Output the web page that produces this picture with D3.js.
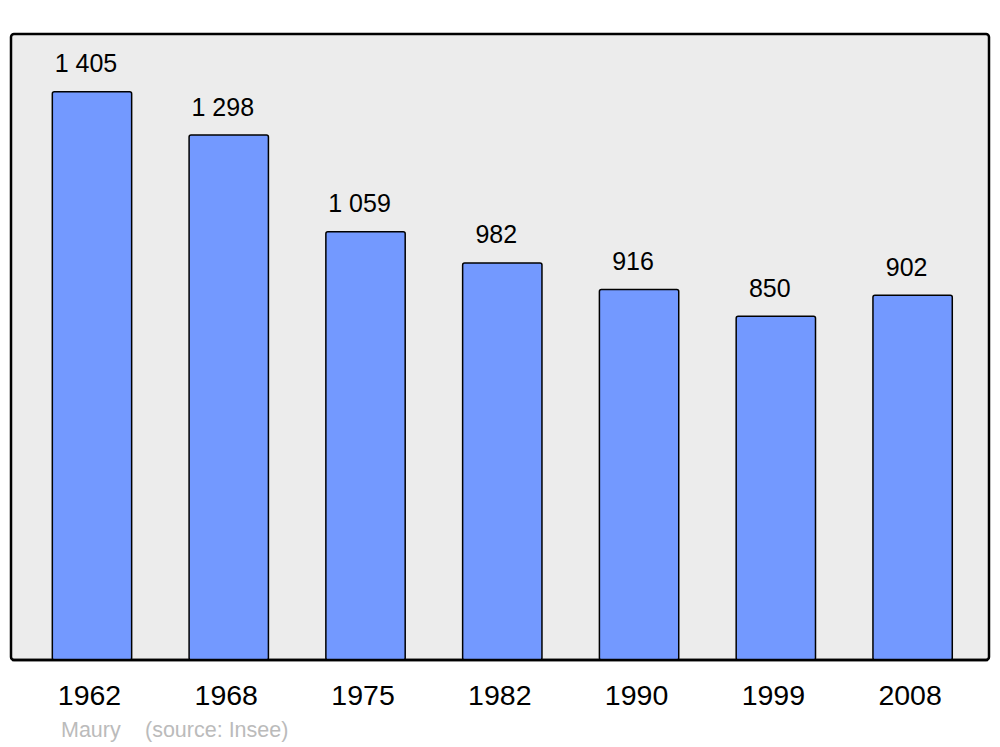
<!DOCTYPE html>
<html><head><meta charset="utf-8">
<script src="https://cdn.jsdelivr.net/npm/d3@7/dist/d3.min.js"></script>
<style>body{margin:0;background:#fff}svg{display:block}text{font-family:"Liberation Sans",Arial,sans-serif}</style>
</head><body>
<script>
const years = ["1962","1968","1975","1982","1990","1999","2008"];
const population = [1405,1298,1059,982,916,850,902];
const valueLabels = ["1 405","1 298","1 059","982","916","850","902"];
const sourceAuthor = "Maury";
const sourceText = "(source: Insee)";

const W=1000,H=747;
const svg=d3.select("body").append("svg").attr("width",W).attr("height",H);
const panel={x:11,y:34,w:978,h:626};
svg.append("rect").attr("x",panel.x).attr("y",panel.y).attr("width",panel.w).attr("height",panel.h)
  .attr("rx",3).attr("fill","#ececec").attr("stroke","#000").attr("stroke-width",2.5);

const x=d3.scaleBand().domain(years).range([23.6,981]).paddingInner(0.42).paddingOuter(0.21);
const y=d3.scaleLinear().domain([0,626/0.4044]).range([660,34]);

const g=svg.append("g");
g.selectAll("rect.bar").data(years).join("rect").attr("class","bar")
  .attr("x",d=>x(d)).attr("width",x.bandwidth())
  .attr("y",(d,i)=>y(population[i])).attr("height",(d,i)=>y(0)-y(population[i]))
  .attr("rx",2).attr("fill","#7399ff").attr("stroke","#000").attr("stroke-width",1.5);

svg.append("line").attr("x1",panel.x+1).attr("x2",panel.x+panel.w-1).attr("y1",660).attr("y2",660)
  .attr("stroke","#000").attr("stroke-width",2.5);

g.selectAll("text.val").data(years).join("text").attr("class","val")
  .attr("x",d=>x(d)+x.bandwidth()/2-6).attr("y",(d,i)=>y(population[i])-19.5)
  .attr("text-anchor","middle").attr("font-size",25).attr("fill","#000")
  .text((d,i)=>valueLabels[i]);

const xAxis=d3.axisBottom(x).tickSize(0).tickPadding(0);
const ax=svg.append("g").attr("transform","translate(-2.5,660)").call(xAxis);
ax.select(".domain").remove();
ax.selectAll("text").attr("font-size",28.5).attr("fill","#000").attr("dy",null).attr("y",45)
  .style("font-family","'Liberation Sans',Arial,sans-serif");

svg.append("text").attr("x",61).attr("y",737).attr("font-size",21.5).attr("fill","#bbbbbb").text(sourceAuthor);
svg.append("text").attr("x",145).attr("y",737).attr("font-size",21.5).attr("fill","#bbbbbb").text(sourceText);
</script>
</body></html>
